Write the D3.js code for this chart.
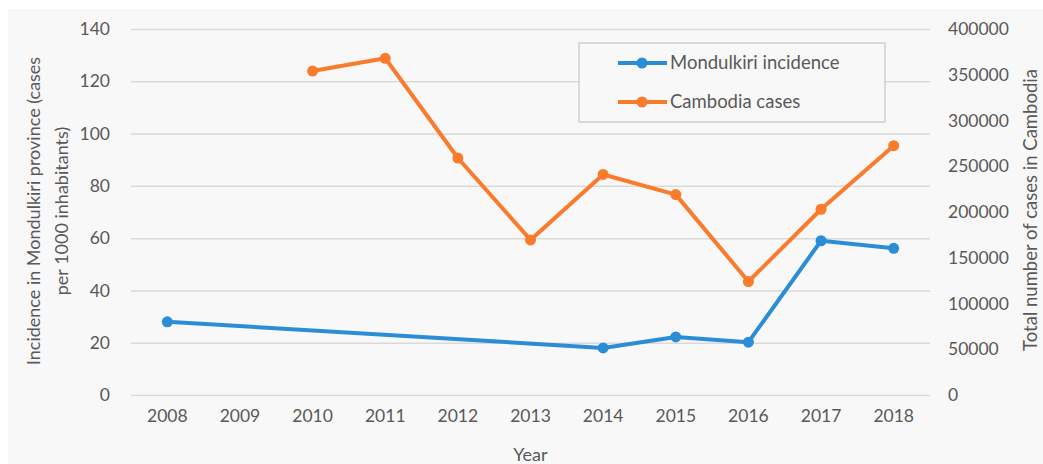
<!DOCTYPE html>
<html>
<head>
<meta charset="utf-8">
<script src="https://cdn.jsdelivr.net/npm/d3@7"></script>
<style>
  html, body { margin: 0; padding: 0; background: #fff; }
  text { font-family: Lato, "Open Sans", sans-serif; fill: #595959; }
</style>
</head>
<body>
<script>
// chart data
const years = ["2008", "2009", "2010", "2011", "2012", "2013", "2014", "2015", "2016", "2017", "2018"];
const mondulkiri = [28, null, null, null, null, null, 18, 22.2, 20.2, 59, 56.1];
const cambodia = [null, null, 354000, 368000, 259000, 169500, 241000, 219000, 124000, 203000, 272500];
const leftTicks = [0, 20, 40, 60, 80, 100, 120, 140];
const rightTicks = [0, 50000, 100000, 150000, 200000, 250000, 300000, 350000, 400000];
const seriesNames = ["Mondulkiri incidence", "Cambodia cases"];
const colors = ["#2a8dd6", "#fa7b2b"];

const W = 1043, H = 464;
const margin = {top: 29, right: 113, bottom: 69, left: 131};
const width = W - margin.left - margin.right,
      height = H - margin.top - margin.bottom;

const svg = d3.select("body").append("svg")
    .attr("width", W)
    .attr("height", H);

// panel background
svg.append("rect")
    .attr("x", 8).attr("y", 9)
    .attr("width", W - 8).attr("height", H - 9)
    .attr("fill", "#f8f8f8");

const g = svg.append("g")
    .attr("transform", `translate(${margin.left},${margin.top})`);

const x = d3.scaleBand().domain(years).range([0, width]);
const yL = d3.scaleLinear().domain([0, 140]).range([height, 0]);
const yR = d3.scaleLinear().domain([0, 400000]).range([height, 0]);

const tickFont = 17.5;

// gridlines
g.append("g")
    .call(d3.axisLeft(yL).tickValues(leftTicks).tickSize(-width).tickFormat(""))
    .call(s => s.select(".domain").remove())
    .call(s => s.selectAll("line").attr("stroke", "#d9d9d9").attr("stroke-width", 1.5));

// left axis labels
g.append("g")
    .call(d3.axisLeft(yL).tickValues(leftTicks).tickSize(0).tickPadding(21))
    .call(s => s.select(".domain").remove())
    .call(s => s.selectAll("text").attr("font-size", tickFont).style("font-family", "Lato, sans-serif").attr("fill", "#595959"));

// right axis labels
g.append("g")
    .attr("transform", `translate(${width},0)`)
    .call(d3.axisRight(yR).tickValues(rightTicks).tickSize(0).tickPadding(18).tickFormat(d3.format("d")))
    .call(s => s.select(".domain").remove())
    .call(s => s.selectAll("text").attr("font-size", tickFont).style("font-family", "Lato, sans-serif").attr("fill", "#595959"));

// x axis labels
g.append("g")
    .attr("transform", `translate(0,${height})`)
    .call(d3.axisBottom(x).tickSize(0).tickPadding(15))
    .call(s => s.select(".domain").remove())
    .call(s => s.selectAll("text").attr("font-size", tickFont).style("font-family", "Lato, sans-serif").attr("fill", "#595959"));

// axis titles
svg.append("text")
    .attr("x", x("2013") + x.bandwidth() / 2 + margin.left)
    .attr("y", 461)
    .attr("text-anchor", "middle")
    .attr("font-size", 18)
    .text("Year");

const lt = svg.append("text")
    .attr("transform", "translate(40,211) rotate(-90)")
    .attr("text-anchor", "middle")
    .attr("font-size", 18);
lt.append("tspan").attr("x", 0).attr("dy", 0).text("Incidence in Mondulkiri province (cases");
lt.append("tspan").attr("x", 0).attr("dy", 28).text("per 1000 inhabitants)");

svg.append("text")
    .attr("transform", "translate(1031,210) rotate(-90)")
    .attr("text-anchor", "middle")
    .attr("dy", "0.3em")
    .attr("font-size", 18.5)
    .text("Total number of cases in Cambodia");

// series
function drawSeries(values, scale, color) {
    const pts = years.map((yr, i) => ({yr, v: values[i]})).filter(d => d.v != null);
    const line = d3.line()
        .x(d => x(d.yr) + x.bandwidth() / 2)
        .y(d => scale(d.v));
    g.append("path")
        .datum(pts)
        .attr("fill", "none")
        .attr("stroke", color)
        .attr("stroke-width", 4)
        .attr("stroke-linejoin", "round")
        .attr("d", line);
    g.selectAll(null)
        .data(pts)
        .enter().append("circle")
        .attr("cx", d => x(d.yr) + x.bandwidth() / 2)
        .attr("cy", d => scale(d.v))
        .attr("r", 5.5)
        .attr("fill", color);
}
drawSeries(mondulkiri, yL, colors[0]);
drawSeries(cambodia, yR, colors[1]);

// legend
const leg = svg.append("g").attr("transform", "translate(579,43)");
leg.append("rect")
    .attr("width", 306).attr("height", 79)
    .attr("fill", "#f8f8f8")
    .attr("stroke", "#cfcfcf")
    .attr("stroke-width", 1.5);
seriesNames.forEach((name, i) => {
    const row = leg.append("g").attr("transform", `translate(0,${20 + i * 39})`);
    row.append("line")
        .attr("x1", 39).attr("x2", 88)
        .attr("stroke", colors[i]).attr("stroke-width", 4);
    row.append("circle").attr("cx", 63).attr("r", 5.5).attr("fill", colors[i]);
    row.append("text")
        .attr("x", 91).attr("dy", "0.35em")
        .attr("font-size", 18.5)
        .text(name);
});
</script>
</body>
</html>
